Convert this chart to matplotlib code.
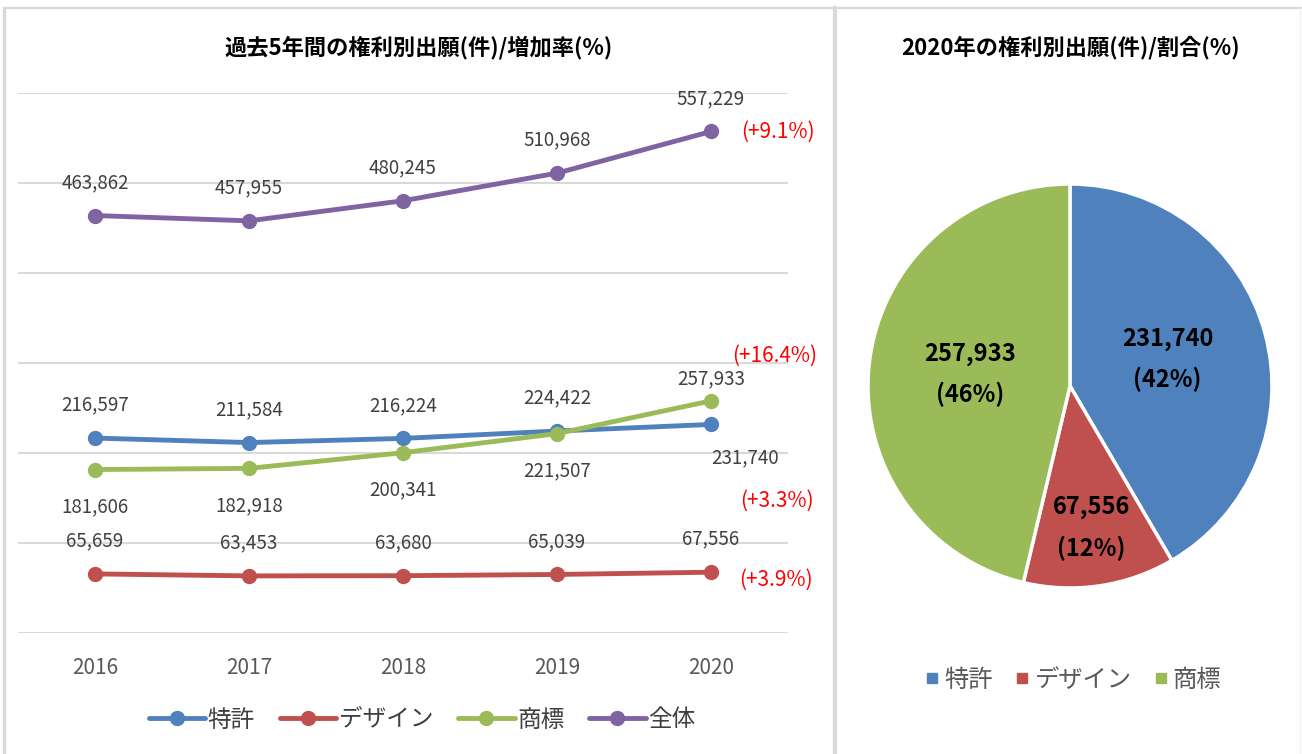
import matplotlib.pyplot as plt
from matplotlib.lines import Line2D
import numpy as np

plt.rcParams["font.family"] = ["Noto Sans CJK JP", "DejaVu Sans"]

years = ["2016", "2017", "2018", "2019", "2020"]
patent = [216597, 211584, 216224, 224422, 231740]
design = [65659, 63453, 63680, 65039, 67556]
trademark = [181606, 182918, 200341, 221507, 257933]
total = [463862, 457955, 480245, 510968, 557229]

series_names = ["特許", "デザイン", "商標", "全体"]
colors = ["#4F81BD", "#C0504D", "#9BBB59", "#8064A2"]

pie_names = ["特許", "デザイン", "商標"]
pie_values = [231740, 67556, 257933]

W, H = 1302, 754
fig = plt.figure(figsize=(W / 100, H / 100), dpi=100)

# panel frames
frame = "#D9D9D9"
fig.add_artist(Line2D([4 / W, 4 / W], [0, 1 - 8 / H], color=frame, lw=2.5))
fig.add_artist(Line2D([4 / W, 1], [1 - 8 / H, 1 - 8 / H], color=frame, lw=1.5))
fig.add_artist(Line2D([835 / W, 835 / W], [0, 1 - 8 / H], color=frame, lw=3))
fig.add_artist(Line2D([1300 / W, 1300 / W], [0, 1 - 8 / H], color="#F0F0F0", lw=1))

# ---- line chart ----
ax = fig.add_axes([18 / W, 1 - 633 / H, 770 / W, 540 / H])
x = range(len(years))
all_series = [patent, design, trademark, total]
for vals, name, c in zip(all_series, series_names, colors):
    ax.plot(x, vals, color=c, lw=3.5, marker="o", ms=10, label=name,
            solid_capstyle="round", zorder=3)

ax.set_xlim(-0.5, len(years) - 0.5)
ax.set_ylim(0, 600000)
ax.set_yticks(range(0, 600001, 100000))
ax.set_yticklabels([])
ax.tick_params(left=False, bottom=False, labelsize=15, labelcolor="#595959", pad=14)
ax.set_xticks(list(x))
ax.set_xticklabels(years)
ax.grid(axis="y", color="#D9D9D9", lw=1.5)
for s in ax.spines.values():
    s.set_visible(False)
ax.set_axisbelow(True)

lab_color = "#404040"


def lab(i, v, dx, dy):
    ax.annotate(f"{v:,}", (i, v), xytext=(dx, dy), textcoords="offset pixels",
                ha="center", va="center", fontsize=13.5, color=lab_color)


for i in x:
    lab(i, total[i], 0, 33)
    lab(i, design[i], 0, 33)
    if i < 4:
        lab(i, patent[i], 0, 33)
        lab(i, trademark[i], 0, -37)
lab(4, patent[4], 34, -33)
lab(4, trademark[4], 0, 22)

# growth rates 2019 -> 2020
growth_offsets = {"全体": (67, 0), "商標": (64, 45), "特許": (66, -76), "デザイン": (65, -8)}
for vals, name in zip(all_series, series_names):
    g = (vals[-1] / vals[-2] - 1) * 100
    dx, dy = growth_offsets[name]
    ax.annotate(f"(+{g:.1f}%)", (4, vals[-1]), xytext=(dx, dy), textcoords="offset pixels",
                ha="center", va="center", fontsize=15, color="#FF0000",
                annotation_clip=False)

fig.text(419 / W, 1 - 48 / H, "過去5年間の権利別出願(件)/増加率(%)",
         ha="center", va="center", fontsize=16, fontweight="bold", color="black")

fig.legend(*ax.get_legend_handles_labels(), loc="center",
           bbox_to_anchor=(422 / W, 1 - 720 / H), ncol=4,
           frameon=False, fontsize=17, handlelength=2.4, columnspacing=1.05,
           handletextpad=0.1, labelcolor="#404040")

# ---- pie chart ----
r = 202
pax = fig.add_axes([(1070 - r) / W, 1 - (386 + r) / H, 2 * r / W, 2 * r / H])
wedges, _ = pax.pie(pie_values, colors=colors[:3], startangle=90, counterclock=False,
                    wedgeprops=dict(edgecolor="white", linewidth=2.5), radius=1)
pax.set_xlim(-1, 1)
pax.set_ylim(-1, 1)
pax.set_aspect("equal")
pax.axis("off")

total_pie = sum(pie_values)
label_r = [0.5, 0.71, 0.5]
for w, v, lr in zip(wedges, pie_values, label_r):
    ang = np.deg2rad((w.theta1 + w.theta2) / 2)
    pax.text(lr * np.cos(ang), lr * np.sin(ang),
             f"{v:,}\n({v / total_pie * 100:.0f}%)", ha="center", va="center",
             fontsize=17, fontweight="bold", color="black", linespacing=1.8)

fig.text(1070 / W, 1 - 48 / H, "2020年の権利別出願(件)/割合(%)",
         ha="center", va="center", fontsize=16, fontweight="bold", color="black")

handles = [plt.Line2D([], [], marker="s", ls="", color=c, ms=7) for c in colors[:3]]
fig.legend(handles, pie_names, loc="center", bbox_to_anchor=(1072 / W, 1 - 680 / H),
           ncol=3, frameon=False, fontsize=17.5, handletextpad=0.1, columnspacing=0.8,
           labelcolor="#595959", handlelength=0.8)

fig.savefig("out.png", dpi=100)
